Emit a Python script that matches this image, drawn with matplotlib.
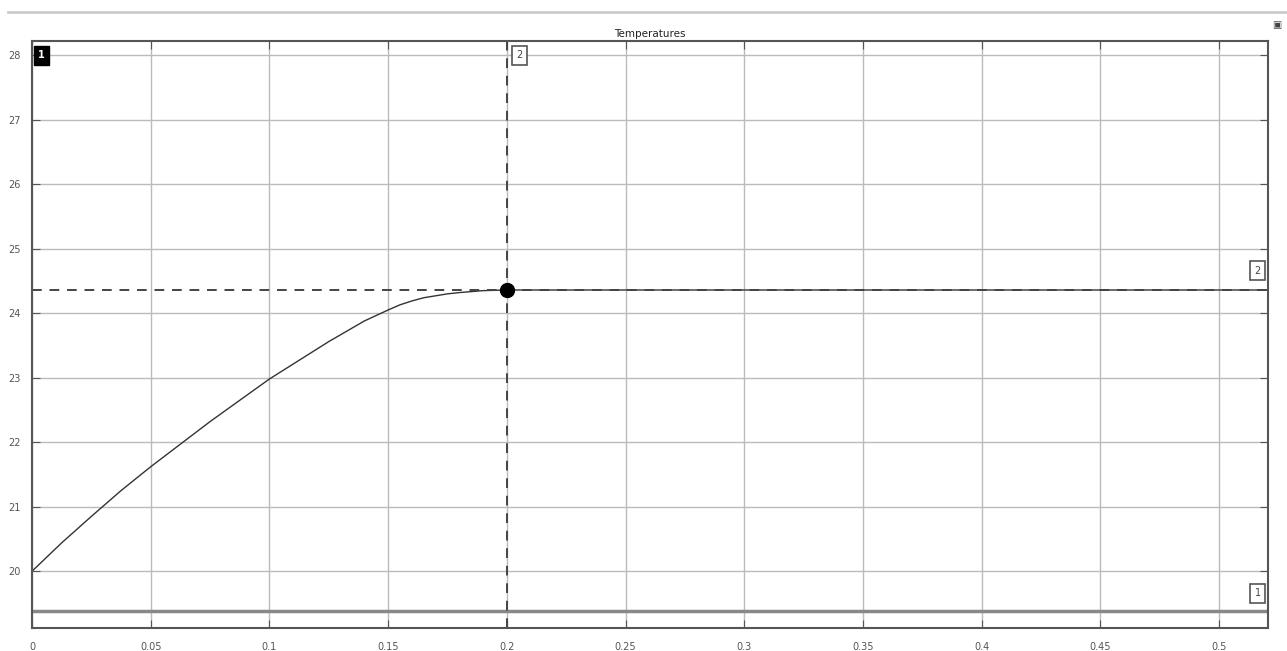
import matplotlib.pyplot as plt
import numpy as np

# data
time_s = [0, 0.0125, 0.025, 0.0375, 0.05, 0.075, 0.1, 0.125, 0.14, 0.15, 0.155, 0.16, 0.165,
          0.17, 0.175, 0.18, 0.19, 0.2, 0.3, 0.4, 0.5, 0.5206]
temp_c = [20.0, 20.44, 20.85, 21.25, 21.62, 22.32, 22.98, 23.56, 23.88, 24.05, 24.13, 24.19, 24.24,
          24.27, 24.30, 24.32, 24.35, 24.36, 24.36, 24.36, 24.36, 24.36]

cursor_t = 0.2
cursor_y2 = 24.36
cursor_y1 = 19.38

x_ticks = [0, 0.05, 0.1, 0.15, 0.2, 0.25, 0.3, 0.35, 0.4, 0.45, 0.5]
x_labels = ['0', '0.05', '0.1', '0.15', '0.2', '0.25', '0.3', '0.35', '0.4', '0.45', '0.5']
y_ticks = [20, 21, 22, 23, 24, 25, 26, 27, 28]

fig = plt.figure(figsize=(12.87, 6.51), dpi=100)
ax = fig.add_axes([32 / 1287, 23 / 651, 1236 / 1287, 587 / 651])

ax.plot(time_s, temp_c, color='#333333', lw=1.0)

# cursors
ax.axhline(cursor_y1, color='#888888', lw=2.5)
ax.axhline(cursor_y2, color='#444444', lw=1.4, ls=(0, (5, 4)))
ax.axvline(cursor_t, color='#444444', lw=1.4, ls=(0, (5, 4)))
ax.plot([cursor_t], [cursor_y2], 'o', color='black', ms=10)

ax.set_xlim(0, 0.5206)
ax.set_ylim(19.12, 28.22)
ax.set_xticks(x_ticks)
ax.set_xticklabels(x_labels)
ax.set_yticks(y_ticks)
ax.tick_params(direction='in', length=6, labelsize=7, colors='#555555',
               top=True, right=True, pad=10)
ax.tick_params(axis='y', pad=8)
ax.grid(True, color='#bbbbbb', lw=1.0)
for s in ax.spines.values():
    s.set_color('#555555')
    s.set_linewidth(1.5)

ax.set_title('Temperatures', fontsize=7.5, color='#222222', pad=3)

# cursor labels
box_w = dict(boxstyle='square,pad=0.45', facecolor='white', edgecolor='#555555', lw=1.2)
ax.text(0.004, 28.0, '1', fontsize=7, color='white', ha='center', va='center',
        fontweight='bold', bbox=dict(boxstyle='square,pad=0.45', facecolor='black', edgecolor='black'))
ax.text(0.2052, 28.0, '2', fontsize=7, color='#444444', ha='center', va='center', bbox=box_w)
ax.text(0.5163, 24.66, '2', fontsize=7, color='#444444', ha='center', va='center', bbox=box_w)
ax.text(0.5163, 19.66, '1', fontsize=7, color='#444444', ha='center', va='center', bbox=box_w)

# top separator line and small icon
fig.add_artist(plt.Line2D([8 / 1287, 1], [1 - 12 / 651, 1 - 12 / 651], color='#cccccc', lw=2))
fig.text(1277 / 1287, 1 - 25 / 651, '▣', fontsize=7, color='#444444', ha='center', va='center')

fig.savefig('out.png', dpi=100)
